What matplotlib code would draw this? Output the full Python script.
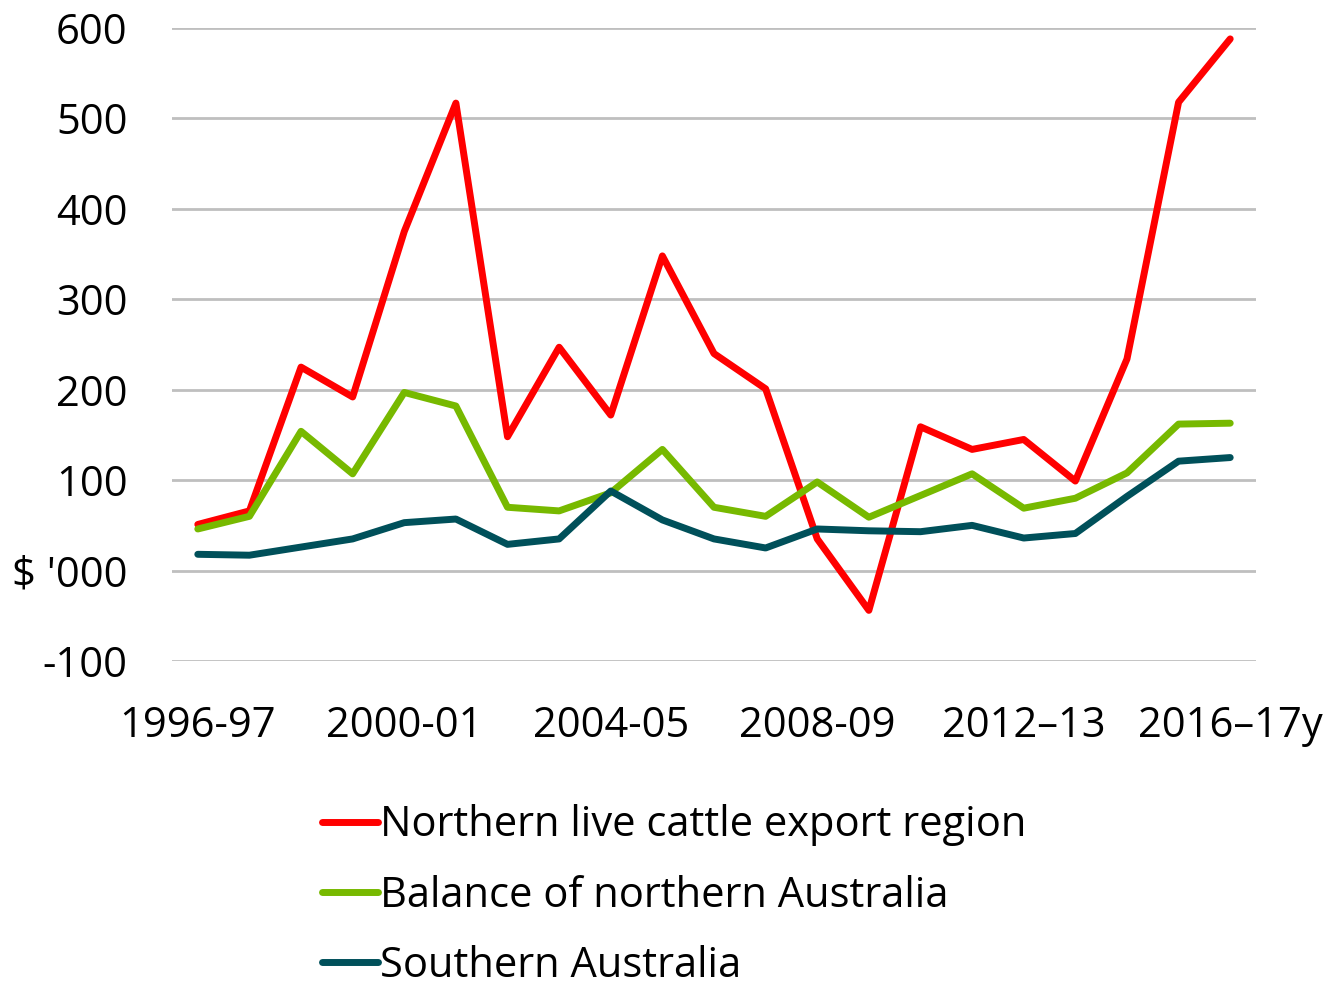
import matplotlib
matplotlib.use("Agg")
import matplotlib.pyplot as plt
import numpy as np

plt.rcParams['font.family'] = ['Open Sans', 'DejaVu Sans']

years = ["1996-97", "1997-98", "1998-99", "1999-00", "2000-01", "2001-02", "2002-03",
         "2003-04", "2004-05", "2005-06", "2006-07", "2007-08", "2008-09", "2009-10",
         "2010-11", "2011-12", "2012–13", "2013-14", "2014-15", "2015-16", "2016–17y"]
northern_live_cattle = [51, 66, 225, 192, 375, 517, 148, 247, 172, 348, 240, 201, 35, -44,
                        159, 134, 145, 99, 234, 518, 588]
balance_northern = [46, 60, 154, 107, 197, 182, 70, 66, 86, 134, 70, 60, 98, 59,
                    83, 107, 69, 80, 108, 162, 163]
southern = [18, 17, 26, 35, 53, 57, 29, 35, 88, 56, 35, 25, 46, 44,
            43, 50, 36, 41, 82, 121, 125]
series_names = ["Northern live cattle export region", "Balance of northern Australia",
                "Southern Australia"]
colors = ["#FF0000", "#77B900", "#00505A"]
y_ticks = [-100, 0, 100, 200, 300, 400, 500, 600]
y_ticklabels = ["-100", "$ '000", "100", "200", "300", "400", "500", "600"]

fig = plt.figure(figsize=(13.28, 9.91), dpi=100)
ax = fig.add_axes([0.1295, 0.333, 0.8163, 0.6387])

x = np.arange(len(years))
for vals, name, c in zip([northern_live_cattle, balance_northern, southern], series_names, colors):
    ax.plot(x, vals, color=c, lw=5, label=name, solid_joinstyle='round', solid_capstyle='round')

ax.set_xlim(-0.5, len(years) - 0.5)
ax.set_ylim(-100, 600)
ax.set_yticks(y_ticks)
ax.set_yticklabels(y_ticklabels)
ax.set_xticks(x[::4])
ax.set_xticklabels(years[::4])
ax.tick_params(axis='both', length=0, labelsize=30)
ax.tick_params(axis='y', pad=32)
ax.tick_params(axis='x', pad=32)
ax.grid(axis='y', color='#BFBFBF', lw=2)
ax.set_axisbelow(True)
for s in ax.spines.values():
    s.set_visible(False)

handles, labels = ax.get_legend_handles_labels()
fig.legend(handles, labels, loc='upper left', bbox_to_anchor=(0.2396, 0.1925),
           frameon=False, fontsize=30, handlelength=1.34, handletextpad=0.05,
           labelspacing=0.68, borderaxespad=0, borderpad=0.1)

fig.savefig("out.png", dpi=100)
